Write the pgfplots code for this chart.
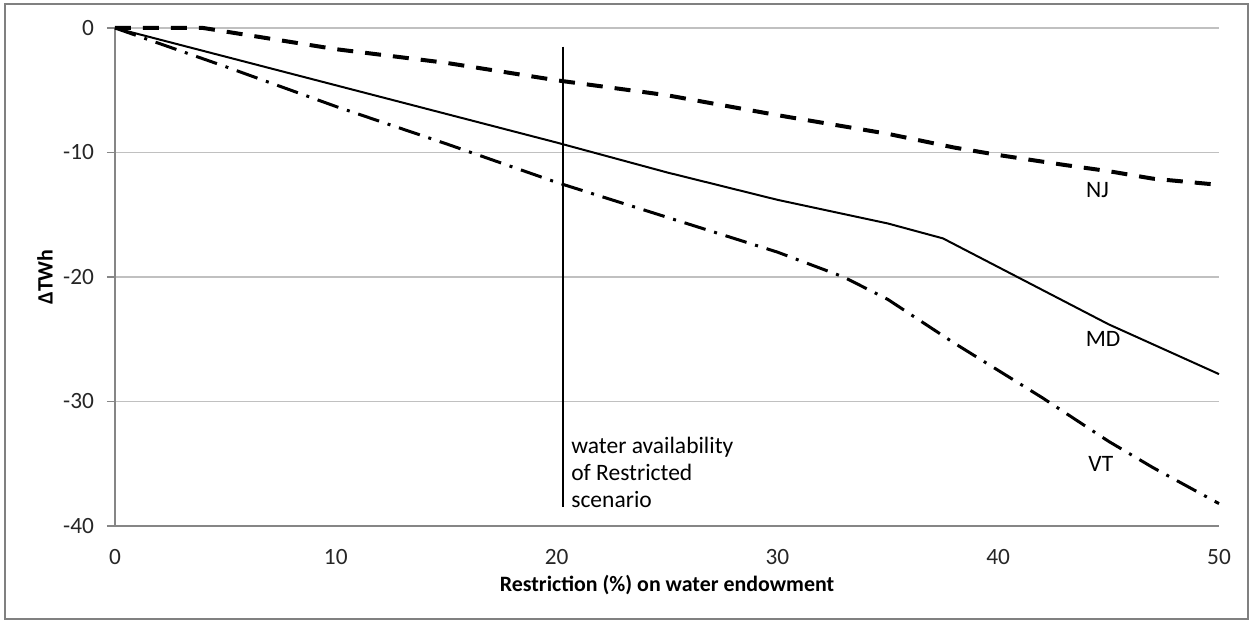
\documentclass[border=0pt]{standalone}
\usepackage{pgfplots}
\pgfplotsset{compat=1.18}
\usepackage{fontspec}
\setmainfont{Carlito}
\definecolor{axgray}{RGB}{134,134,134}
\definecolor{gridgray}{RGB}{192,192,192}
\definecolor{framegray}{RGB}{128,128,128}
\begin{document}
\begin{tikzpicture}
\useasboundingbox (-57.5bp,-49bp) rectangle (568bp,263bp);
\draw[framegray, line width=1.2bp] (-55bp,-46.5bp) rectangle (566.5bp,261bp);
\begin{axis}[
  at={(0,0)}, anchor=south west,
  scale only axis, width=552bp, height=249bp,
  xmin=0, xmax=50, ymin=-40, ymax=0,
  axis x line=bottom, axis y line=left,
  axis line style={axgray, line width=0.8bp, -},
  xtick={0,10,20,30,40,50}, ytick={0,-10,-20,-30,-40},
  major x tick style={draw=none},
  major y tick style={axgray, line width=0.8bp},
  tick align=outside, major tick length=4bp,
  ymajorgrids, major grid style={gridgray, line width=0.8bp},
  /pgf/number format/assume math mode=true,
  ticklabel style={font=\fontsize{11.7}{13}\selectfont, text=black!85},
  xticklabel style={yshift=-4bp},
  yticklabel style={xshift=-3bp},
  xlabel={\textbf{Restriction (\%) on water endowment}},
  ylabel={\textbf{ΔTWh}},
  label style={font=\fontsize{11}{13}\selectfont},
  xlabel style={at={(axis description cs:0.5,-0.1185)}, anchor=center},
  ylabel style={at={(axis description cs:-0.0634,0.5)}, anchor=center, rotate=0},
  clip=false,
]
% NJ
\addplot[black, line width=2bp, dash pattern=on 8bp off 6bp] coordinates {
(0,0) (4,0) (10,-1.7) (15,-2.8) (20,-4.2) (25,-5.4) (30,-7.0) (35,-8.5) (38,-9.6) (40,-10.2) (43,-11.0) (45,-11.5) (47,-12.1) (50,-12.6)};
% MD
\addplot[black, line width=1bp] coordinates {
(0,0) (5,-2.3) (10,-4.6) (15,-6.9) (20,-9.2) (25,-11.6) (30,-13.8) (35,-15.7) (37.5,-16.9) (40,-19.2) (45,-23.8) (50,-27.8)};
% VT
\addplot[black, line width=1.5bp, dash pattern=on 11bp off 4.5bp on 1.5bp off 4.5bp] coordinates {
(0,0) (5,-3.1) (10,-6.3) (15,-9.3) (20,-12.4) (25,-15.2) (30,-18.0) (33,-20.0) (35,-21.8) (38,-25.3) (40,-27.5) (42,-29.7) (45,-33.2) (47,-35.3) (50,-38.2)};
% restricted scenario line
\addplot[black, line width=1.2bp] coordinates {(20.3,-1.5) (20.3,-38.5)};
\node[anchor=north west, inner sep=0, align=left, font=\fontsize{11.8}{13.75}\selectfont] at (axis cs:20.65,-32.8) {water availability\\of Restricted\\scenario};
\node[font=\fontsize{11.8}{13}\selectfont] at (axis cs:44.5,-13.0) {NJ};
\node[font=\fontsize{11.8}{13}\selectfont] at (axis cs:44.75,-25.0) {MD};
\node[font=\fontsize{11.8}{13}\selectfont] at (axis cs:44.65,-35.0) {VT};
\end{axis}
\end{tikzpicture}
\end{document}
